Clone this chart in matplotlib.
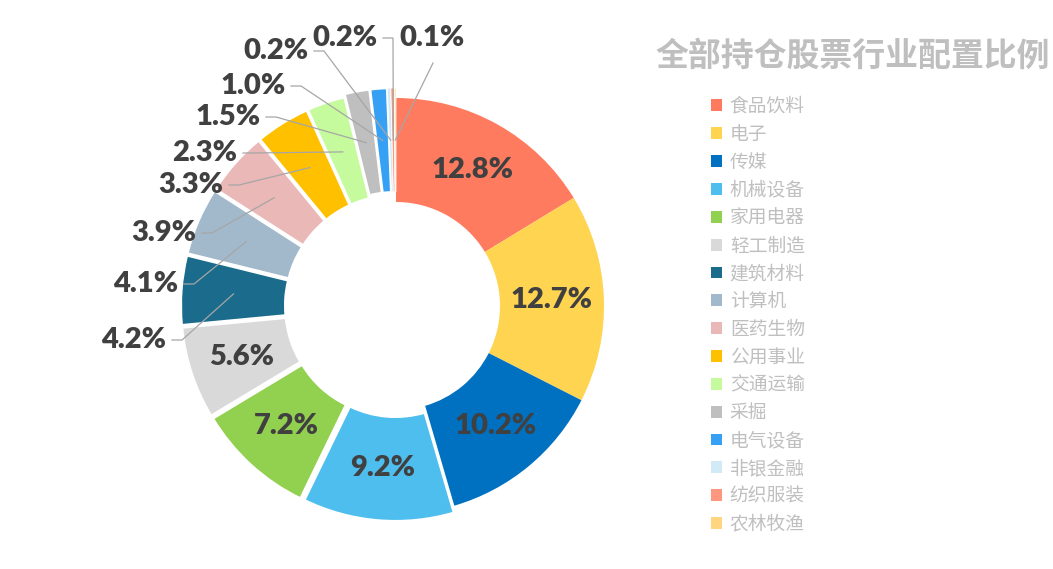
import math
import matplotlib
matplotlib.use("Agg")
import matplotlib.pyplot as plt

categories = ["食品饮料", "电子", "传媒", "机械设备", "家用电器", "轻工制造", "建筑材料", "计算机",
              "医药生物", "公用事业", "交通运输", "采掘", "电气设备", "非银金融", "纺织服装", "农林牧渔"]
values = [12.8, 12.7, 10.2, 9.2, 7.2, 5.6, 4.2, 4.1, 3.9, 3.3, 2.3, 1.5, 1.0, 0.2, 0.2, 0.1]
colors = ["#FF7B5F", "#FFD450", "#0070C0", "#4DBEEE", "#92D050", "#D9D9D9", "#1B6C8C", "#A2B9CC",
          "#EAB8B7", "#FFC000", "#C5FB9D", "#BFBFBF", "#35A0F4", "#D2EAF5", "#FF9680", "#FFD580"]
title = "全部持仓股票行业配置比例"

W, H = 1053, 569
fig = plt.figure(figsize=(W / 100, H / 100), dpi=100)
ax = fig.add_axes([0, 0, 1, 1])

cx, cy = 396, H - 306
R = 208
ring = 104
explode = [0, 0, 0] + [7] * 8 + [10] * 5

wedges, _ = ax.pie(values, colors=colors, startangle=90, counterclock=False,
                   radius=R, center=(cx, cy), explode=explode,
                   wedgeprops=dict(width=ring, edgecolor="white", linewidth=1.5))
ax.set_xlim(0, W)
ax.set_ylim(0, H)
ax.set_aspect("equal")
ax.axis("off")

for i, w in enumerate(wedges):
    if i < 3:
        w.set_linewidth(0)
    elif values[i] < 0.5:
        w.set_linewidth(0.6)

num_font = dict(family="Lato", fontweight="heavy", color="#404040", fontsize=21)
rmid = R - ring / 2

inside = 6  # first six labels placed inside
# outside label positions (pixel coords of label text centre), layout only
outside_pos = [(134, 340), (146, 284), (164, 233), (191, 185), (205, 153), (228, 117),
               (253, 86), (276, 51), (345, 38), (432, 38)]

for i, (w, v) in enumerate(zip(wedges, values)):
    th = math.radians((w.theta1 + w.theta2) / 2)
    wx, wy = w.center
    ax_ = wx + rmid * math.cos(th)
    ay_ = wy + rmid * math.sin(th)
    label = f"{v:.1f}%"
    if i < inside:
        ax.text(ax_, ay_, label, ha="center", va="center", **num_font)
    else:
        tx, ty = outside_pos[i - inside]
        ty = H - ty
        ax.text(tx, ty, label, ha="center", va="center", **num_font)
        # leader line
        if tx < cx - 40:
            sx = tx + 38
            ax.plot([sx, sx + 10, ax_], [ty, ty, ay_], color="#A6A6A6", lw=0.9,
                    solid_joinstyle="miter")
        elif tx < cx:
            sx = tx + 39
            ax.plot([sx, sx + 5, ax_], [ty + 1, ty + 1, ay_], color="#A6A6A6", lw=0.9)
        else:
            sx = tx + 1
            ax.plot([sx, ax_], [ty - 25, ay_], color="#A6A6A6", lw=0.9)

fig.text(853 / W, 1 - 56 / H, title, ha="center", va="center", fontsize=23.7,
         fontweight="bold", color="#BFBFBF", family=["Noto Sans CJK SC", "DejaVu Sans"])

leg = fig.legend(wedges, categories, loc="upper left", bbox_to_anchor=(711 / W, 1 - 96 / H),
                 frameon=False, handlelength=0.6, handleheight=0.6, handletextpad=0.4,
                 labelspacing=0.365, borderaxespad=0, borderpad=0,
                 prop=dict(family=["Noto Sans CJK SC", "DejaVu Sans"], size=13.5))
for t in leg.get_texts():
    t.set_color("#BFBFBF")
for h in leg.legend_handles:
    h.set_linewidth(0)

fig.savefig("out.png", dpi=100)
